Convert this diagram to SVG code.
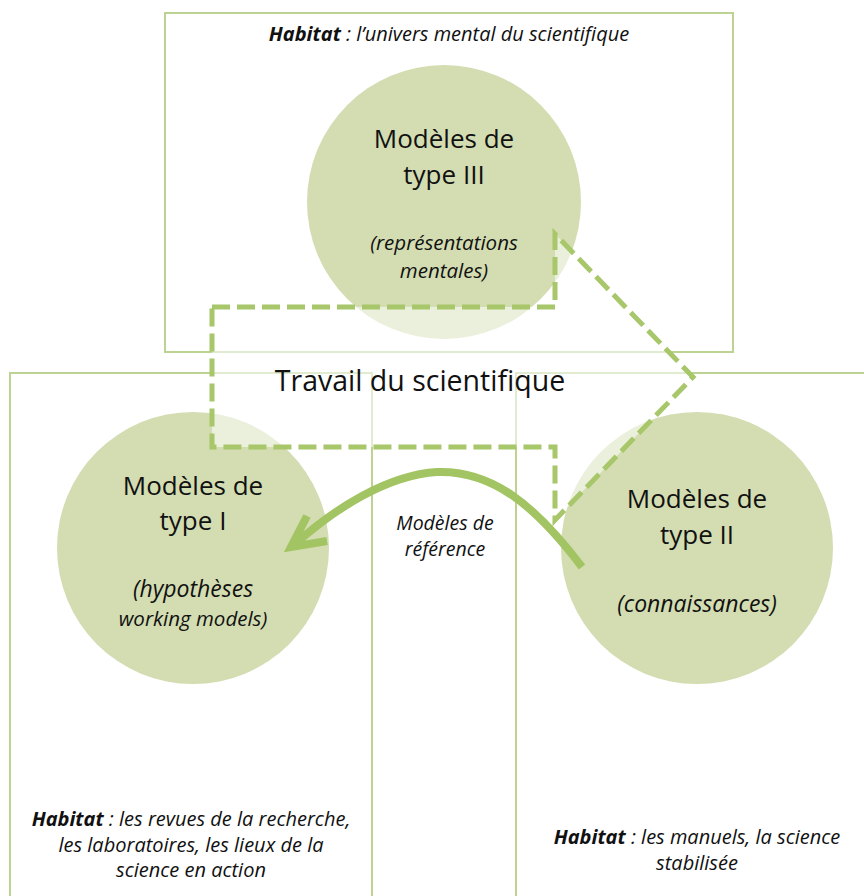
<svg xmlns="http://www.w3.org/2000/svg" width="864" height="896" viewBox="0 0 864 896">
  <defs>
    <style>
      .box { fill: none; stroke: #bcd394; stroke-width: 2; }
      .node circle { fill: #d3ddb1; }
      .t { font-family: "Open Sans", "Liberation Sans", sans-serif; fill: #111; text-anchor: middle; }
      .big { font-size: 26px; }
      .it { font-style: italic; }
      .b { font-weight: bold; }
      .dash { fill: #ffffff; fill-opacity: 0.55; stroke: #a8c66a; stroke-width: 5; stroke-dasharray: 18 7; }
      .arrow { fill: none; stroke: #a3c463; stroke-width: 8; }
    </style>
  </defs>
  <rect width="864" height="896" fill="#ffffff"/>

  <g id="habitats">
    <rect id="habitat-top" class="box" x="165" y="13" width="568" height="339"/>
    <rect id="habitat-left" class="box" x="10" y="373" width="362" height="540"/>
    <rect id="habitat-right" class="box" x="516" y="373" width="370" height="540"/>
  </g>

  <g id="node-type3" class="node">
    <circle cx="444" cy="202" r="137"/>
  </g>
  <g id="node-type1" class="node">
    <circle cx="193" cy="548" r="136"/>
  </g>
  <g id="node-type2" class="node">
    <circle cx="697" cy="548" r="136"/>
  </g>

  <g id="connectors">
    <polygon id="travail" class="dash" points="212,307 555,307 555,234 693,377 555,520 555,447 212,447"/>
    <path class="arrow" d="M582,567 C535,505 492,470 437,472 C388,475 335,508 294,545"/>
    <polyline class="arrow" points="307,516 291,547 327,541" stroke-linejoin="miter"/>
  </g>

  <g id="labels">
    <text class="t" x="449" y="41" font-size="20"><tspan class="b it">Habitat</tspan><tspan class="it"> : l’univers mental du scientifique</tspan></text>

    <text class="t big" x="444" y="148">Modèles de</text>
    <text class="t big" x="444" y="184">type III</text>
    <text class="t it" x="444" y="250" font-size="20.5">(représentations</text>
    <text class="t it" x="444" y="278" font-size="20.5">mentales)</text>

    <text class="t" x="420" y="391" font-size="28.5">Travail du scientifique</text>

    <text class="t big" x="193" y="495">Modèles de</text>
    <text class="t big" x="193" y="530">type I</text>
    <text class="t it" x="193" y="597" font-size="23">(hypothèses</text>
    <text class="t it" x="193" y="626" font-size="20.5">working models)</text>

    <text class="t big" x="697" y="508">Modèles de</text>
    <text class="t big" x="697" y="544">type II</text>
    <text class="t it" x="697" y="612" font-size="23">(connaissances)</text>

    <text class="t it" x="445" y="530" font-size="19.5">Modèles de</text>
    <text class="t it" x="445" y="556" font-size="19.5">référence</text>

    <text class="t" x="191" y="826" font-size="20"><tspan class="b it">Habitat</tspan><tspan class="it"> : les revues de la recherche,</tspan></text>
    <text class="t it" x="191" y="852" font-size="20">les laboratoires, les lieux de la</text>
    <text class="t it" x="191" y="877" font-size="20">science en action</text>

    <text class="t" x="697" y="844" font-size="20"><tspan class="b it">Habitat</tspan><tspan class="it"> : les manuels, la science</tspan></text>
    <text class="t it" x="697" y="870" font-size="20">stabilisée</text>
  </g>
</svg>
